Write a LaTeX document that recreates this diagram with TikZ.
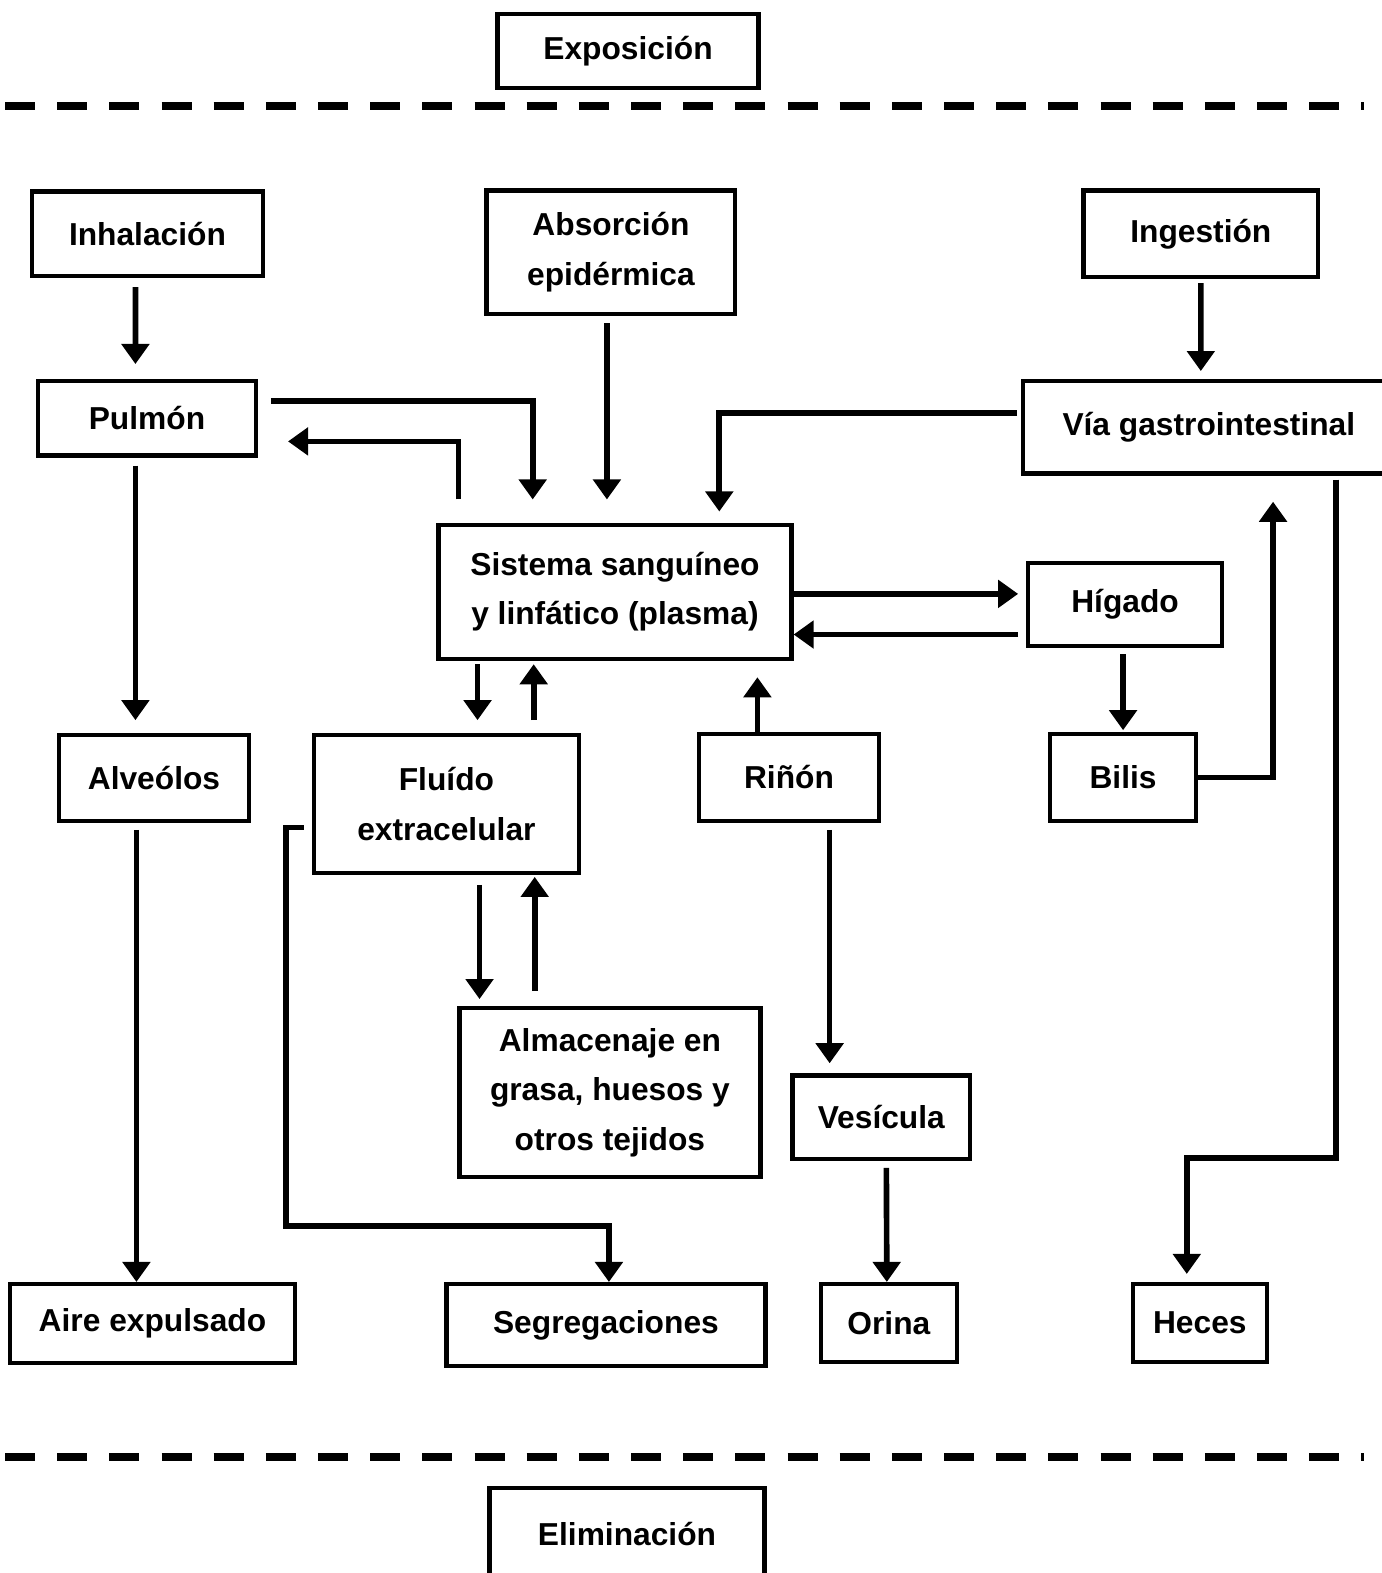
\documentclass[tikz,border=0pt]{standalone}
\usepackage{fontspec}
\setmainfont{Liberation Sans}
\usetikzlibrary{calc}
\usetikzlibrary{arrows.meta}

\begin{document}
\begin{tikzpicture}[
	box/.style={draw, line width=1.2pt, inner sep=0pt, align=center, font=\bfseries\fontsize{9}{14}\selectfont},
	arr/.style={line width=1.6pt, -{Triangle[length=0.2cm,width=0.27cm]}},
	sep/.style={line width=0.08cm, dash pattern=on 0.3cm off 0.22cm}
	]
	\useasboundingbox (0,0) rectangle (13.77,-15.68);
	
	\draw[sep] (0.05,-1.06) -- (13.6,-1.06);
	
	\draw[sep] (0.05,-14.52) -- (13.6,-14.52);
	
	\node[box, minimum width=2.6cm, minimum height=0.74cm] (expo) at (6.26,-0.51) {Exposición};
	
	\node[box, minimum width=2.3cm, minimum height=0.84cm] (inhal) at (1.47,-2.33) {Inhalación};
	
	\node[box, minimum width=2.48cm, minimum height=1.23cm] (absor) at (6.09,-2.515) {Absorción\\epidérmica};
	
	\node[box, minimum width=2.34cm, minimum height=0.86cm] (inges) at (11.97,-2.33) {Ingestión};
	
	\node[box, minimum width=2.17cm, minimum height=0.74cm] (pulmon) at (1.465,-4.17) {Pulmón};
	
	\node[box, minimum width=3.7cm, minimum height=0.92cm] (via) at (12.05,-4.26) {Vía gastrointestinal};
	
	\node[box, minimum width=3.52cm, minimum height=1.34cm] (sist) at (6.13,-5.9) {Sistema sanguíneo\\y linfático (plasma)};
	
	\node[box, minimum width=1.93cm, minimum height=0.83cm] (higado) at (11.215,-6.025) {Hígado};
	
	\node[box, minimum width=1.89cm, minimum height=0.85cm] (alveo) at (1.535,-7.755) {Alveólos};
	
	\node[box, minimum width=2.64cm, minimum height=1.37cm] (fluido) at (4.45,-8.015) {Fluído\\extracelular};
	
	\node[box, minimum width=1.79cm, minimum height=0.86cm] (rinon) at (7.865,-7.75) {Riñón};
	
	\node[box, minimum width=1.45cm, minimum height=0.86cm] (bilis) at (11.195,-7.75) {Bilis};
	
	\node[box, minimum width=3cm, minimum height=1.68cm] (almac) at (6.08,-10.89) {Almacenaje en\\grasa, huesos y\\otros tejidos};
	
	\node[box, minimum width=1.77cm, minimum height=0.83cm] (vesic) at (8.785,-11.135) {Vesícula};
	
	\node[box, minimum width=2.84cm, minimum height=0.79cm] (aire) at (1.52,-13.195) {Aire expulsado};
	
	\node[box, minimum width=3.18cm, minimum height=0.82cm] (segreg) at (6.04,-13.21) {Segregaciones};
	
	\node[box, minimum width=1.36cm, minimum height=0.78cm] (orina) at (8.86,-13.19) {Orina};
	
	\node[box, minimum width=1.34cm, minimum height=0.78cm] (heces) at (11.96,-13.19) {Heces};
	
	\node[box, minimum width=2.74cm, minimum height=0.92cm] (elim) at (6.25,-15.29) {Eliminación};
	
	
	\draw[arr, shorten <=0.09cm, shorten >=0.15cm] ([xshift=-1.2mm]inhal.south) -- ([xshift=-1.15mm]pulmon.north);
	
	\draw[arr, shorten <=0.13cm, shorten >=0.23cm] ([yshift=1.7mm]pulmon.east) -| ([xshift=-8.2mm]sist.north);
	
	\draw[arr, shorten <=0.23cm, shorten >=0.3cm] ([xshift=-15.6mm]sist.north) |- ([yshift=-2.3mm]pulmon.east);
	
	\draw[arr, shorten <=0.07cm, shorten >=0.23cm] ([xshift=-0.4mm]absor.south) -- ([xshift=-0.8mm]sist.north);
	
	\draw[arr, shorten <=0.04cm, shorten >=0.08cm] (inges.south) -- ([xshift=-0.8mm]via.north);
	
	\draw[arr, shorten <=0.04cm, shorten >=0.11cm] ([yshift=1.4mm]via.west) -| ([xshift=10.4mm]sist.north);
	
	\draw[arr, shorten >=0.08cm] ([yshift=-0.2mm]sist.east) -- ([yshift=-0.2mm]sist.east -| higado.west);
	
	\draw[arr, shorten <=0.08cm] ([yshift=-3mm]higado.west) -- ([yshift=-3mm]higado.west -| sist.east);
	
	\draw[arr, shorten <=0.08cm, shorten >=0.13cm] ([xshift=-1.15mm]pulmon.south) -- ([xshift=-1.15mm]pulmon.south |- alveo.north);
	
	\draw[arr, shorten <=0.03cm, shorten >=0.13cm] ([xshift=3.1mm]fluido.north |- sist.south) -- ([xshift=3.1mm]fluido.north);
	
	\draw[arr, shorten <=0.13cm, shorten >=0.03cm] ([xshift=8.7mm]fluido.north) -- ([xshift=8.7mm]fluido.north |- sist.south);
	
	\draw[arr, shorten >=0.16cm] ([xshift=-3.15mm]rinon.north) -- ([xshift=-3.15mm]rinon.north |- sist.south);
	
	\draw[arr, shorten <=0.06cm, shorten >=0.02cm] (higado.south -| bilis.north) -- (bilis.north);
	
	\draw[arr, shorten >=0.26cm] (bilis.east) -| ([xshift=6.4mm]via.south);
	
	\draw[arr, shorten <=0.04cm, shorten >=0.08cm] ([xshift=12.7mm]via.south) -- ++(0,-6.8) -| ([xshift=-1.3mm]heces.north);
	
	\draw[arr, shorten <=0.07cm] ([xshift=-1.75mm]alveo.south) -- ([xshift=-1.6mm]aire.north);
	
	\draw[arr, shorten <=0.08cm] ([yshift=-2.35mm]fluido.west) -- ++(-0.26,0) -- ++(0,-3.97) -| ([xshift=0.3mm]segreg.north);
	
	\draw[arr, shorten <=0.1cm, shorten >=0.07cm] ([xshift=3.3mm]fluido.south) -- ([xshift=3.3mm]fluido.south |- almac.north);
	
	\draw[arr, shorten <=0.15cm, shorten >=0.02cm] ([xshift=8.8mm]fluido.south |- almac.north) -- ([xshift=8.8mm]fluido.south);
	
	\draw[arr, shorten <=0.07cm, shorten >=0.1cm] ([xshift=4.05mm]rinon.south) -- ([xshift=4.05mm]rinon.south |- vesic.north);
	
	\draw[arr, shorten <=0.07cm] ([xshift=0.5mm]vesic.south) -- ([xshift=-0.2mm]orina.north);
	
\end{tikzpicture}
\end{document}
